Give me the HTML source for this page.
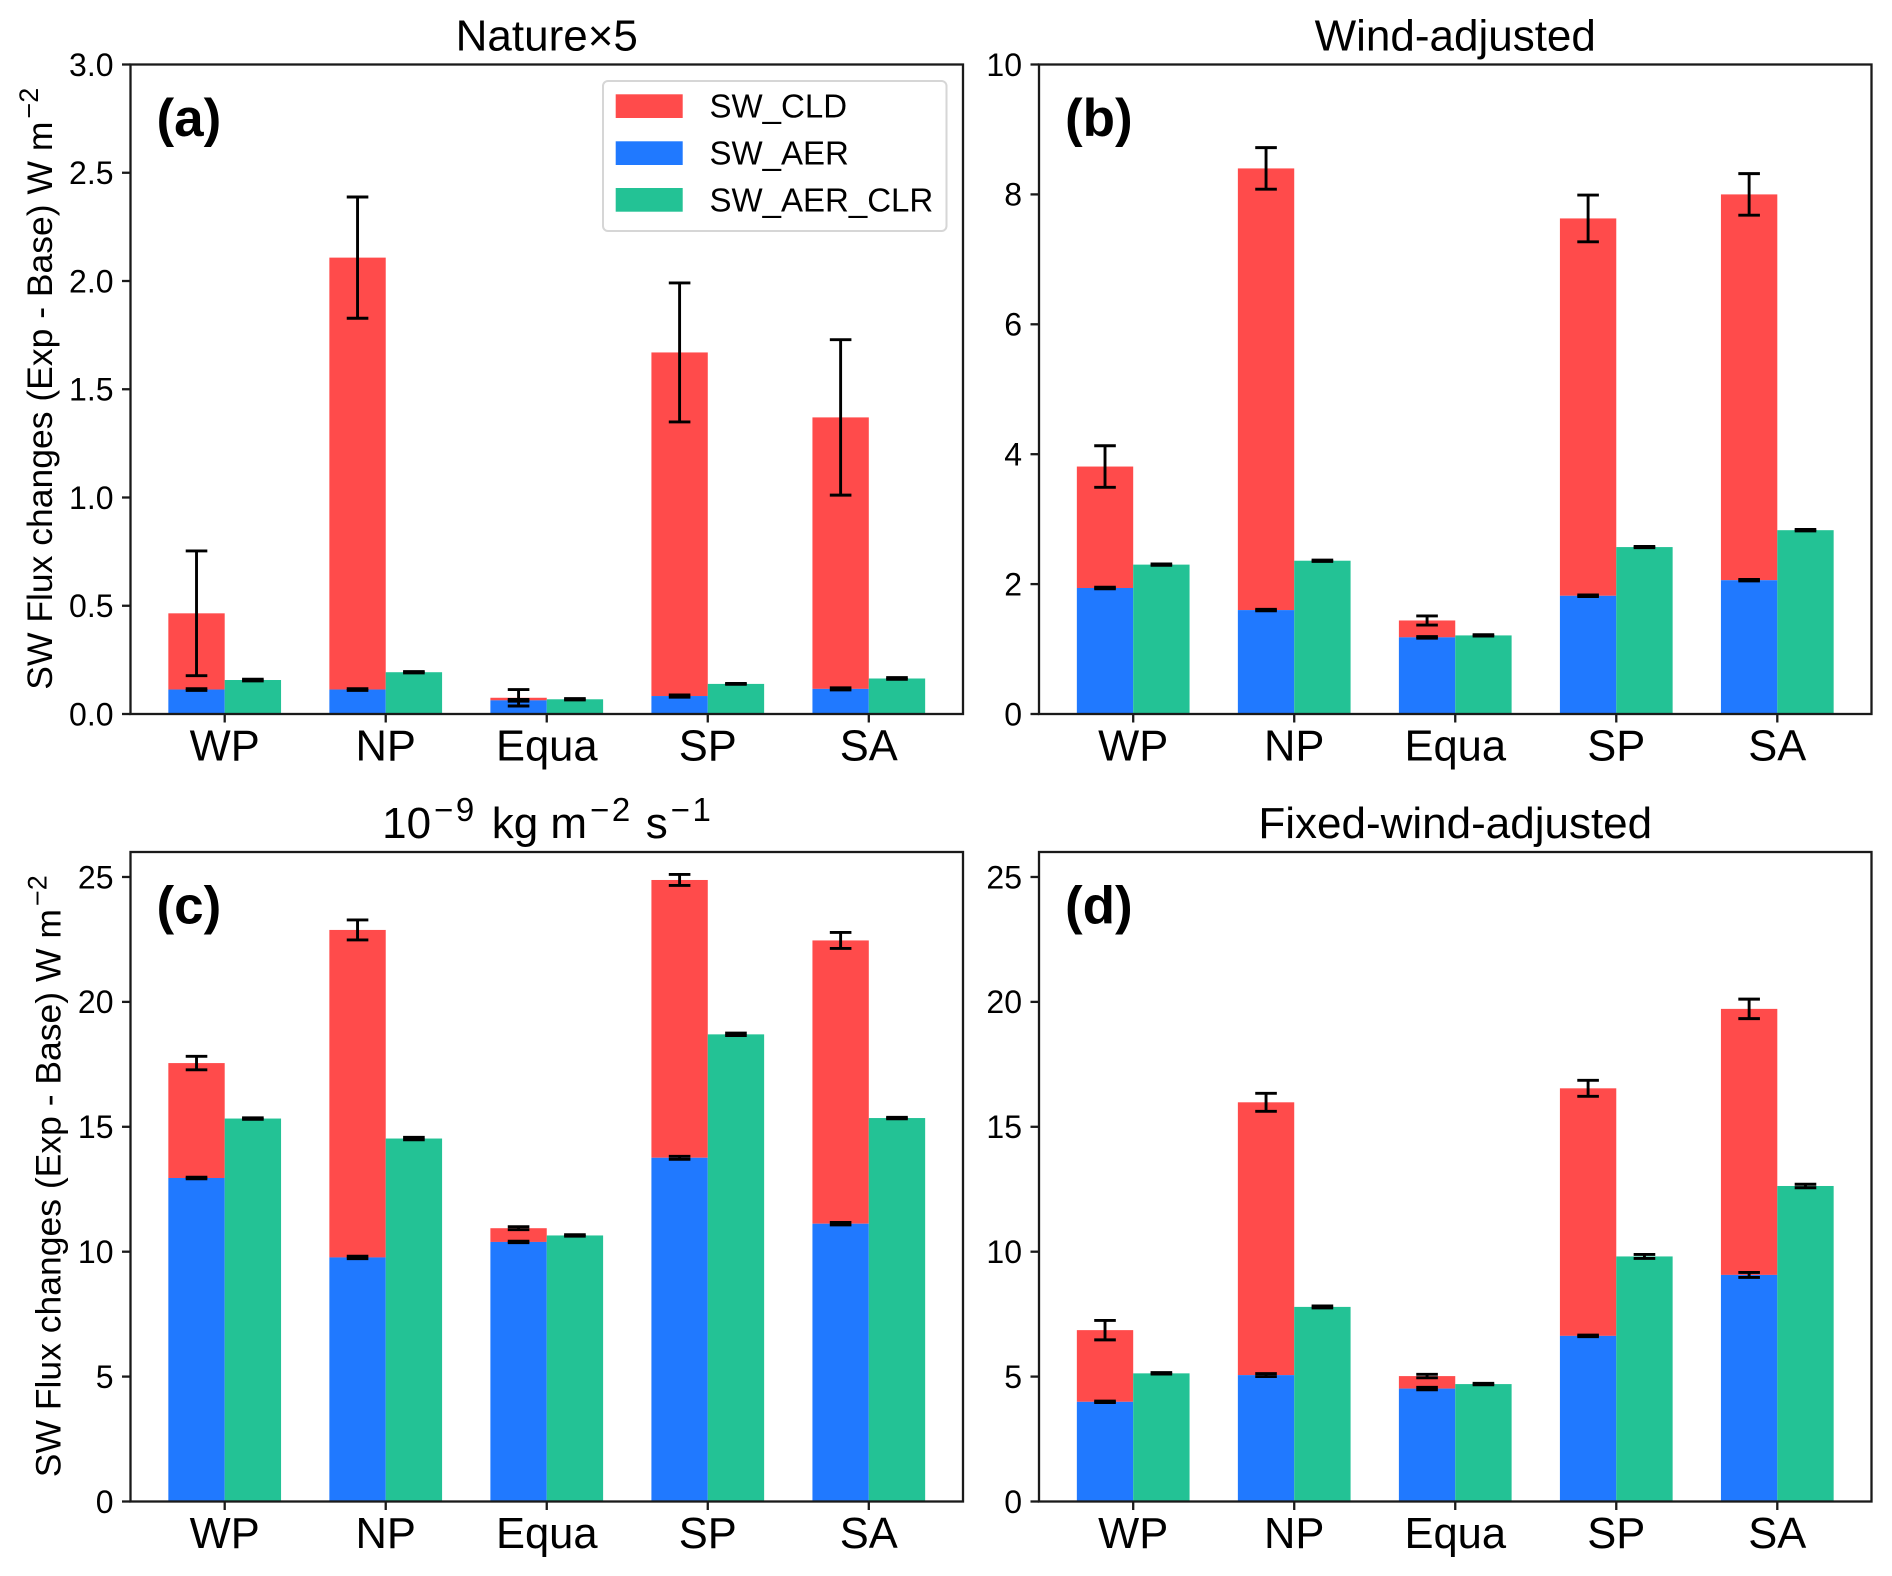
<!DOCTYPE html>
<html lang="en">
<head>
<meta charset="utf-8">
<title>SW Flux changes</title>
<style>
html,body{margin:0;padding:0;background:#fff;}
svg{display:block;}
text{font-family:"Liberation Sans",Arial,sans-serif;fill:#000;}
</style>
</head>
<body>
<svg id="figure" xmlns="http://www.w3.org/2000/svg" width="1892" height="1576" viewBox="0 0 1892 1576">
  <rect x="0" y="0" width="1892" height="1576" fill="#ffffff"/>
  <g id="panels"></g>
  <g>
    <rect x="603" y="81" width="343.5" height="150" rx="5" ry="5" fill="#fff" stroke="#d6d6d6" stroke-width="2"/>
    <rect x="615.7" y="94.3" width="67" height="23.7" fill="#ff4b4b"/>
    <text x="709.5" y="117.7" font-size="33">SW_CLD</text>
    <rect x="615.7" y="141.3" width="67" height="23.7" fill="#2079ff"/>
    <text x="709.5" y="164.7" font-size="33">SW_AER</text>
    <rect x="615.7" y="188" width="67" height="23.7" fill="#23c295"/>
    <text x="709.5" y="211.3" font-size="33">SW_AER_CLR</text>
  </g>
</svg>
<script>
// Shared categories
const categories = ['WP', 'NP', 'Equa', 'SP', 'SA'];

// Panel (a) Nature×5
const aTicks = ['0.0', '0.5', '1.0', '1.5', '2.0', '2.5', '3.0'];
const aAer = [0.113, 0.113, 0.063, 0.083, 0.116];
const aCld = [0.352, 1.995, 0.012, 1.587, 1.254];
const aClr = [0.157, 0.193, 0.068, 0.139, 0.164];
const aCldErr = [0.288, 0.28, 0.038, 0.321, 0.359];
const aAerErr = [0.004, 0.004, 0.004, 0.005, 0.005];
const aClrErr = [0.004, 0.003, 0.003, 0.002, 0.004];

// Panel (b) Wind-adjusted
const bTicks = ['0', '2', '4', '6', '8', '10'];
const bAer = [1.94, 1.6, 1.18, 1.82, 2.06];
const bCld = [1.87, 6.8, 0.26, 5.81, 5.94];
const bClr = [2.3, 2.36, 1.21, 2.57, 2.83];
const bCldErr = [0.32, 0.32, 0.07, 0.36, 0.32];
const bAerErr = [0.012, 0.012, 0.012, 0.012, 0.012];
const bClrErr = [0.01, 0.01, 0.01, 0.01, 0.012];

// Panel (c) 10^-9 kg m^-2 s^-1
const cTicks = ['0', '5', '10', '15', '20', '25'];
const cAer = [12.95, 9.77, 10.39, 13.76, 11.12];
const cCld = [4.6, 13.11, 0.55, 11.12, 11.34];
const cClr = [15.33, 14.53, 10.65, 18.7, 15.35];
const cCldErr = [0.27, 0.4, 0.06, 0.22, 0.32];
const cAerErr = [0.03, 0.05, 0.03, 0.06, 0.05];
const cClrErr = [0.03, 0.05, 0.03, 0.05, 0.03];

// Panel (d) Fixed-wind-adjusted
const dTicks = ['0', '5', '10', '15', '20', '25'];
const dAer = [3.99, 5.06, 4.52, 6.63, 9.07];
const dCld = [2.87, 10.92, 0.5, 9.91, 10.65];
const dClr = [5.13, 7.79, 4.7, 9.81, 12.63];
const dCldErr = [0.39, 0.36, 0.07, 0.32, 0.39];
const dAerErr = [0.03, 0.06, 0.05, 0.03, 0.1];
const dClrErr = [0.03, 0.04, 0.03, 0.08, 0.07];

const NS = 'http://www.w3.org/2000/svg';
const RED = '#ff4b4b', BLUE = '#2079ff', GREEN = '#23c295', INK = '#1a1a1a';
const BAR_W = 0.35, X_MIN = -0.585, X_MAX = 4.585, CAP = 10.8;

const panels = [
  {id: 'a', left: 130.5, right: 963, top: 64.5, bottom: 714, yMax: 3, tickStep: 0.5, ticks: aTicks, aer: aAer, cld: aCld, clr: aClr, cldErr: aCldErr, aerErr: aAerErr, clrErr: aClrErr, title: [['Nature×5']], ylabel: true},
  {id: 'b', left: 1039, right: 1871.5, top: 64.5, bottom: 714, yMax: 10, tickStep: 2, ticks: bTicks, aer: bAer, cld: bCld, clr: bClr, cldErr: bCldErr, aerErr: bAerErr, clrErr: bClrErr, title: [['Wind-adjusted']], ylabel: false},
  {id: 'c', left: 130.5, right: 963, top: 852, bottom: 1501.5, yMax: 26, tickStep: 5, ticks: cTicks, aer: cAer, cld: cCld, clr: cClr, cldErr: cCldErr, aerErr: cAerErr, clrErr: cClrErr, title: [['10', 0, 0], ['−9', 1, 3], ['kg m', 0, 15], ['−2', 1, 3], ['s', 0, 13], ['−1', 1, 3]], ylabel: true},
  {id: 'd', left: 1039, right: 1871.5, top: 852, bottom: 1501.5, yMax: 26, tickStep: 5, ticks: dTicks, aer: dAer, cld: dCld, clr: dClr, cldErr: dCldErr, aerErr: dAerErr, clrErr: dClrErr, title: [['Fixed-wind-adjusted']], ylabel: false}
];

function svgEl(tag, attrs, parent) {
  const el = document.createElementNS(NS, tag);
  for (const k in attrs) el.setAttribute(k, attrs[k]);
  parent.appendChild(el);
  return el;
}

function drawErr(g, name, x, yFn, center, err) {
  const eg = svgEl('g', {stroke: '#000', 'stroke-width': 2.9, fill: 'none'}, g);
  
  
  const hi = yFn(center + err), lo = yFn(center - err);
  svgEl('line', {x1: x, x2: x, y1: hi, y2: lo}, eg);
  svgEl('line', {x1: x - CAP, x2: x + CAP, y1: hi, y2: hi}, eg);
  svgEl('line', {x1: x - CAP, x2: x + CAP, y1: lo, y2: lo}, eg);
}

function drawBar(g, name, color, x0, x1, y0, y1) {
  const r = svgEl('rect', {x: x0, y: y1, width: x1 - x0, height: y0 - y1, fill: color}, g);
  
  
}

function drawPanel(p) {
  const root = document.getElementById('panels');
  const g = svgEl('g', {}, root);
  
  

  const xScale = v => p.left + (v - X_MIN) / (X_MAX - X_MIN) * (p.right - p.left);
  const yScale = v => p.bottom - v / p.yMax * (p.bottom - p.top);

  categories.forEach((cat, i) => {
    const total = p.aer[i] + p.cld[i];
    drawBar(g, 'bar-sw-cld-' + cat.toLowerCase(), RED, xScale(i - BAR_W), xScale(i), yScale(p.aer[i]), yScale(total));
    drawBar(g, 'bar-sw-aer-' + cat.toLowerCase(), BLUE, xScale(i - BAR_W), xScale(i), yScale(0), yScale(p.aer[i]));
    drawBar(g, 'bar-sw-aer-clr-' + cat.toLowerCase(), GREEN, xScale(i), xScale(i + BAR_W), yScale(0), yScale(p.clr[i]));
  });
  categories.forEach((cat, i) => {
    const total = p.aer[i] + p.cld[i];
    drawErr(g, 'error-sw-cld-' + cat.toLowerCase(), xScale(i - BAR_W / 2), yScale, total, p.cldErr[i]);
    drawErr(g, 'error-sw-aer-' + cat.toLowerCase(), xScale(i - BAR_W / 2), yScale, p.aer[i], p.aerErr[i]);
    drawErr(g, 'error-sw-aer-clr-' + cat.toLowerCase(), xScale(i + BAR_W / 2), yScale, p.clr[i], p.clrErr[i]);
  });

  // Axes frame
  const frame = svgEl('rect', {x: p.left, y: p.top, width: p.right - p.left, height: p.bottom - p.top, fill: 'none', stroke: INK, 'stroke-width': 2.3}, g);
  
  

  // Y ticks
  p.ticks.forEach((label, i) => {
    const y = yScale(i * p.tickStep);
    const t = svgEl('line', {x1: p.left - 8.5, x2: p.left, y1: y, y2: y, stroke: INK, 'stroke-width': 2.3}, g);
    
    
    const tx = svgEl('text', {x: p.left - 17, y: y + 11.3, 'font-size': 32, 'text-anchor': 'end'}, g);
    
    
    tx.textContent = label;
  });

  // X ticks
  categories.forEach((cat, i) => {
    const x = xScale(i);
    const t = svgEl('line', {x1: x, x2: x, y1: p.bottom, y2: p.bottom + 8.5, stroke: INK, 'stroke-width': 2.3}, g);
    
    
    const tx = svgEl('text', {x: x, y: p.bottom + 46.5, 'font-size': 43.5, 'text-anchor': 'middle'}, g);
    
    
    tx.textContent = cat;
  });

  // Title
  const title = svgEl('text', {x: (p.left + p.right) / 2 + (p.id === 'c' ? 1 : 0), y: p.top - 14, 'font-size': 44, 'text-anchor': 'middle'}, g);
  
  
  let raised = false;
  p.title.forEach(part => {
    const s = svgEl('tspan', {}, title);
    s.textContent = part[0];
    if (part[2]) s.setAttribute('dx', part[2]);
    if (part[1]) {
      s.setAttribute('font-size', 33);
      s.setAttribute('letter-spacing', 2.5);
      s.setAttribute('dy', -17);
      raised = true;
    } else if (raised) {
      s.setAttribute('dy', 17);
      raised = false;
    }
  });

  // Panel letter
  const letter = svgEl('text', {x: p.left + 26, y: p.top + 71.5, 'font-size': 53, 'font-weight': 'bold'}, g);
  
  
  letter.textContent = '(' + p.id + ')';

  // Y axis label
  if (p.ylabel) {
    const lx = p.id === 'a' ? 52 : 60.5;
    const ly = (p.top + p.bottom) / 2 - 0.5;
    const yl = svgEl('text', {transform: 'translate(' + lx + ',' + ly + ') rotate(-90)', x: 0, y: 0, 'font-size': 35.5, 'text-anchor': 'middle'}, g);
    
    
    const s1 = svgEl('tspan', {}, yl);
    s1.textContent = 'SW Flux changes (Exp - Base) W m';
    const s2 = svgEl('tspan', {'font-size': 27, dy: -14, dx: 3}, yl);
    s2.textContent = '−2';
  }
}

panels.forEach(drawPanel);
</script>
</body>
</html>
